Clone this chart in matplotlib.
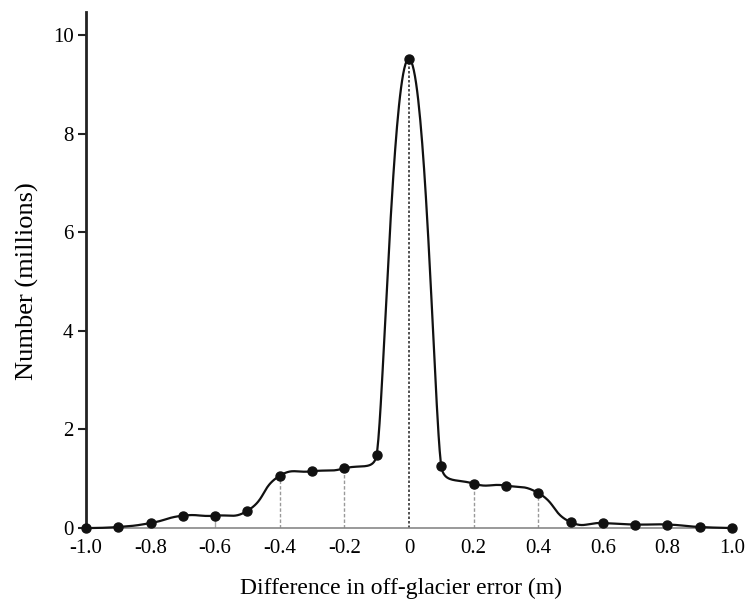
import numpy as np
import matplotlib.pyplot as plt

# difference in off-glacier error (m) vs count (millions)
diff = [-1.0, -0.9, -0.8, -0.7, -0.6, -0.5, -0.4, -0.3, -0.2, -0.1, 0.0,
        0.1, 0.2, 0.3, 0.4, 0.5, 0.6, 0.7, 0.8, 0.9, 1.0]
count = [0.0, 0.02, 0.10, 0.25, 0.25, 0.35, 1.06, 1.15, 1.21, 1.49, 9.52,
         1.25, 0.90, 0.86, 0.71, 0.12, 0.10, 0.07, 0.07, 0.02, 0.0]
drop_x = [-0.6, -0.4, -0.2, 0.0, 0.2, 0.4]

xtick_vals = [-1.0, -0.8, -0.6, -0.4, -0.2, 0.0, 0.2, 0.4, 0.6, 0.8, 1.0]
xtick_labels = ['-1.0', '-0.8', '-0.6', '-0.4', '-0.2', '0', '0.2', '0.4', '0.6', '0.8', '1.0']
ytick_vals = [0, 2, 4, 6, 8, 10]


def smooth_line(ax, x, y, t=0.5, cap=45.0, n=40):
    # bezier smoothing in screen space, control arms scaled by chord length (capped)
    P = ax.transData.transform(np.column_stack([x, y]))
    m = len(P)
    c_in = P.copy()
    c_out = P.copy()

    def limit(v):
        L = np.hypot(*v)
        return v if L <= cap else v * cap / L

    for i in range(1, m - 1):
        d01 = np.hypot(*(P[i] - P[i - 1]))
        d12 = np.hypot(*(P[i + 1] - P[i]))
        fa = t * d01 / (d01 + d12)
        fb = t * d12 / (d01 + d12)
        c_in[i] = P[i] - limit(fa * (P[i + 1] - P[i - 1]))
        c_out[i] = P[i] + limit(fb * (P[i + 1] - P[i - 1]))
    s = np.linspace(0, 1, n)[:, None]
    pts = []
    for i in range(m - 1):
        a, b, c, d = P[i], c_out[i], c_in[i + 1], P[i + 1]
        seg = ((1 - s) ** 3) * a + 3 * ((1 - s) ** 2) * s * b + 3 * (1 - s) * s ** 2 * c + s ** 3 * d
        pts.append(seg if i == 0 else seg[1:])
    pts = np.vstack(pts)
    return ax.transData.inverted().transform(pts)


plt.rcParams['font.family'] = ['Liberation Serif', 'DejaVu Serif']

fig = plt.figure(figsize=(7.45, 6.01), dpi=100)
ax = fig.add_axes([0.1154, 0.1215, 0.8672, 0.8585])
ax.set_xlim(-1.0, 1.0)
ax.set_ylim(0, 10.47)

for xv in drop_x:
    yv = count[diff.index(xv)]
    if xv == -0.6:
        ax.plot([xv, xv], [0, yv], color='#aaaaaa', lw=1.0, zorder=1)
    elif xv == 0.0:
        ax.plot([xv, xv], [0, yv], color='#333333', lw=1.2, ls=(0, (1.5, 1.2)), zorder=1)
    else:
        ax.plot([xv, xv], [0, yv], color='#999999', lw=1.0, ls=(0, (2.5, 1.5)), zorder=1)

curve = smooth_line(ax, diff, count)
ax.plot(curve[:, 0], curve[:, 1], color='#111111', lw=1.6, zorder=3, clip_on=False)
ax.plot(diff, count, 'o', color='#111111', ms=6.5, zorder=4, clip_on=False)

ax.set_xticks(xtick_vals)
ax.set_xticklabels(xtick_labels)
ax.set_yticks(ytick_vals)

for s in ['top', 'right']:
    ax.spines[s].set_visible(False)
ax.spines['left'].set_linewidth(2.0)
ax.spines['left'].set_color('#222222')
ax.spines['bottom'].set_linewidth(1.2)
ax.spines['bottom'].set_color('#888888')

ax.tick_params(axis='x', length=0, pad=8, labelsize=15)
ax.tick_params(axis='y', length=6, width=1.5, pad=3, labelsize=15, color='#222222')

ax.set_xlabel('Difference in off-glacier error (m)', fontsize=17)
ax.xaxis.set_label_coords(0.4876, -0.097)
ax.set_ylabel('Number (millions)', fontsize=19)
ax.yaxis.set_label_coords(-0.073, 5.0 / 10.47)

fig.savefig('out.png', dpi=100)
